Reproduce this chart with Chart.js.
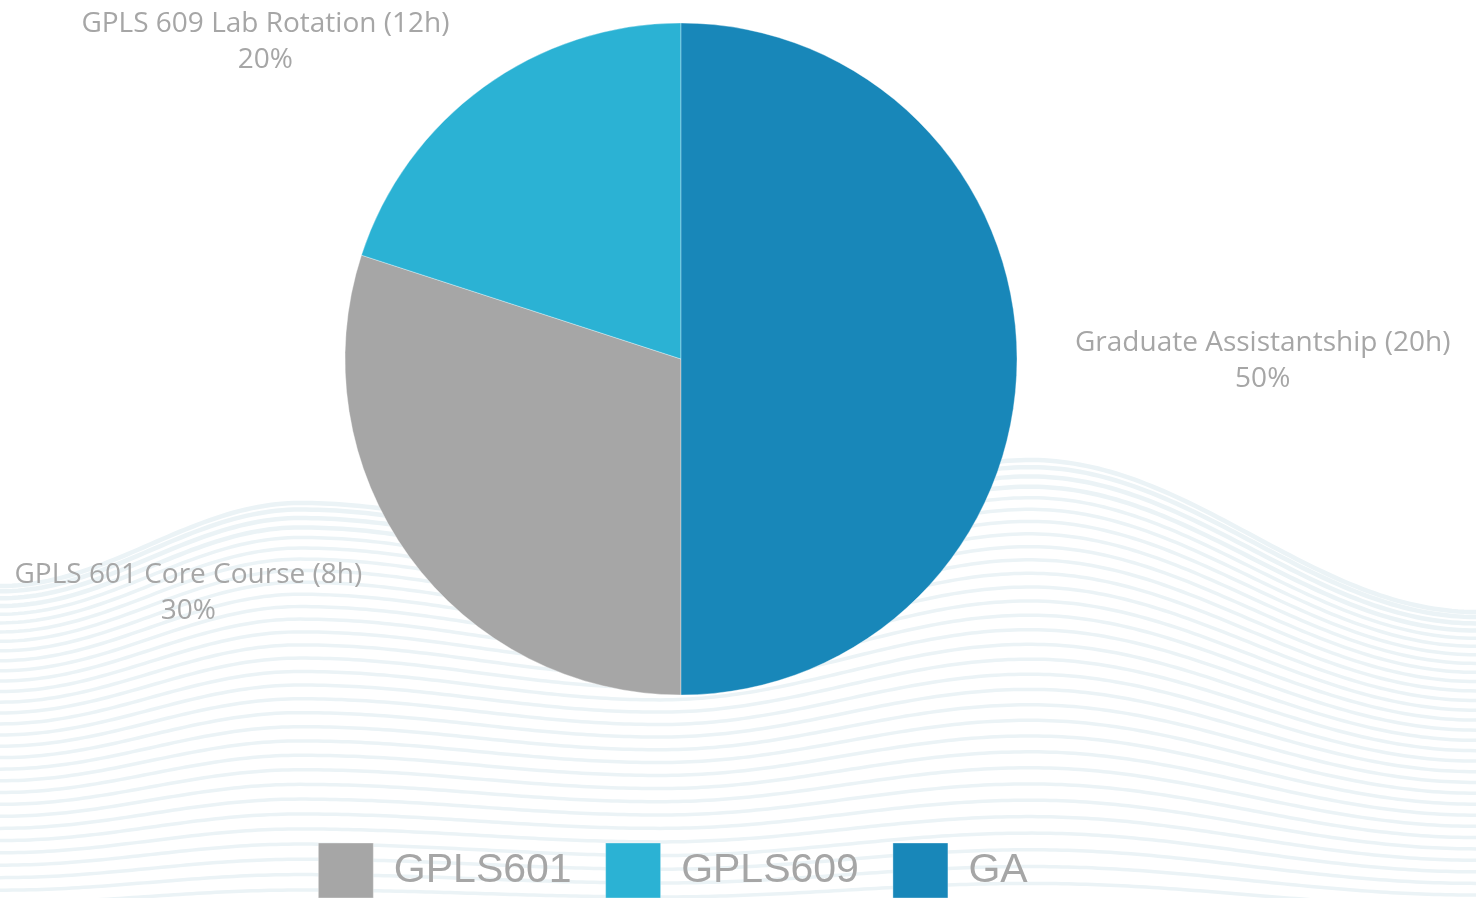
<!DOCTYPE html>
<html>
<head>
<meta charset="utf-8">
<title>Weekly time split</title>
<script src="https://cdn.jsdelivr.net/npm/chart.js@4.4.1/dist/chart.umd.min.js"></script>
<style>
  html, body { margin: 0; padding: 0; background: #fff; overflow: hidden; }
</style>
</head>
<body>
<canvas id="split-chart" width="1476" height="898"></canvas>
<script>
// data
const categories = ['GPLS601', 'GPLS609', 'GA'];
const courseNames = ['GPLS 601 Core Course', 'GPLS 609 Lab Rotation', 'Graduate Assistantship'];
const weeklyHours = [8, 12, 20];
const sharePercent = [30, 20, 50];
const sliceColors = ['#a6a6a6', '#2bb2d4', '#1887b9'];

// crests of the decorative wave behind the chart (x, y)
const waveCrests = [[0, 586], [300, 503], [660, 548], [1030, 460], [1476, 612]];

function waveTop(x) {
  for (let i = 0; i < waveCrests.length - 1; i++) {
    const [x0, y0] = waveCrests[i];
    const [x1, y1] = waveCrests[i + 1];
    if (x <= x1) {
      const t = (x - x0) / (x1 - x0);
      const s = (1 - Math.cos(Math.PI * t)) / 2;
      return y0 + (y1 - y0) * s;
    }
  }
  return waveCrests[waveCrests.length - 1][1];
}

// light wavy lines painted before anything else
const waveBackground = {
  id: 'waveBackground',
  beforeDraw(chart) {
    const { ctx, width, height } = chart;
    ctx.save();
    ctx.fillStyle = '#ffffff';
    ctx.fillRect(0, 0, width, height);
    ctx.strokeStyle = '#ebf3f6';
    const count = 32;
    for (let i = 0; i < count; i++) {
      const t = Math.pow(i / (count - 1), 1.2);
      ctx.lineWidth = i < 4 ? 4.5 : 3.5;
      ctx.beginPath();
      for (let x = 0; x <= width + 6; x += 6) {
        const top = waveTop(x);
        const bottom = 910 + (top - 540) * 0.12;
        const y = top + (bottom - top) * t;
        if (x === 0) ctx.moveTo(x, y); else ctx.lineTo(x, y);
      }
      ctx.stroke();
    }
    ctx.restore();
  }
};

// two-line labels outside each slice
const sliceLabels = {
  id: 'sliceLabels',
  afterDatasetsDraw(chart) {
    const ctx = chart.ctx;
    const arcs = chart.getDatasetMeta(0).data;
    const values = chart.data.datasets[0].data;
    ctx.save();
    ctx.font = '28px "Open Sans"';
    ctx.fillStyle = '#a6a6a6';
    ctx.textAlign = 'center';
    ctx.textBaseline = 'middle';
    arcs.forEach((arc, i) => {
      const p = arc.getProps(['x', 'y', 'startAngle', 'endAngle', 'outerRadius'], true);
      const mid = (p.startAngle + p.endAngle) / 2;
      const r = p.outerRadius + 58;
      const ax = p.x + Math.cos(mid) * r;
      const ay = p.y + Math.sin(mid) * r;
      const lines = [courseNames[i] + ' (' + weeklyHours[i] + 'h)', values[i] + '%'];
      const w = Math.max(...lines.map(t => ctx.measureText(t).width));
      const cx = Math.cos(mid) >= 0 ? ax + w / 2 : ax - w / 2;
      ctx.fillText(lines[0], cx, ay - 16);
      ctx.fillText(lines[1], cx, ay + 20);
    });
    ctx.restore();
  }
};

// nudge the legend row a little to the left
const legendNudge = {
  id: 'legendNudge',
  afterLayout(chart) {
    chart.legend.left -= 8;
    chart.legend.right -= 8;
  }
};

const ctx = document.getElementById('split-chart').getContext('2d');

const splitChart = new Chart(ctx, {
  type: 'pie',
  data: {
    labels: categories,
    datasets: [{
      data: sharePercent,
      backgroundColor: sliceColors,
      borderColor: 'rgba(255, 255, 255, 0.35)',
      borderWidth: 1,
      radius: 336
    }]
  },
  options: {
    responsive: false,
    animation: false,
    rotation: 180,
    layout: {
      padding: { top: 0, bottom: -10, left: 0, right: 114 }
    },
    plugins: {
      tooltip: { enabled: false },
      legend: {
        position: 'bottom',
        title: { display: true, text: '', padding: { top: 76.6, bottom: 0 } },
        labels: {
          boxWidth: 55,
          boxHeight: 55,
          padding: 34,
          color: '#a6a6a6',
          font: { family: '"Liberation Sans", Arial, sans-serif', size: 41 }
        }
      }
    }
  },
  plugins: [waveBackground, sliceLabels, legendNudge]
});
</script>
</body>
</html>
